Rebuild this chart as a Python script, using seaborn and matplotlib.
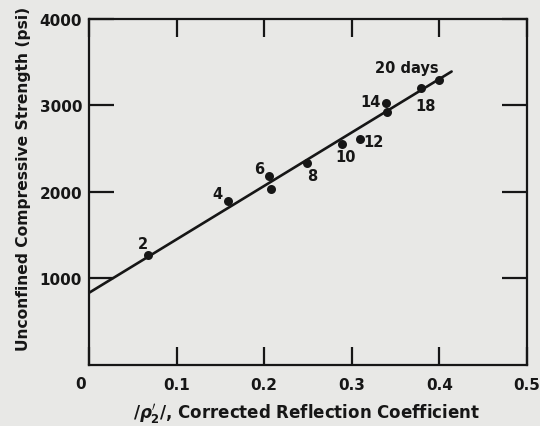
import numpy as np
import pandas as pd
import seaborn as sns
import matplotlib
matplotlib.use("Agg")
import matplotlib.pyplot as plt

# values
reflection = [0.067, 0.159, 0.206, 0.208, 0.249, 0.289, 0.309, 0.339, 0.340, 0.379, 0.400]
strength = [1272, 1888, 2185, 2035, 2339, 2551, 2609, 3025, 2929, 3199, 3295]
day_labels = ["2", "4", "6", "", "8", "10", "12", "14", "", "18", "20 days"]

# fitted line as drawn
fit_intercept = 830
fit_slope = 6190
fit_x = [0.0, 0.414]

x_ticks = [0, 0.1, 0.2, 0.3, 0.4, 0.5]
x_tick_labels = ["", "0.1", "0.2", "0.3", "0.4", "0.5"]
y_ticks = [1000, 2000, 3000, 4000]
y_tick_labels = ["1000", "2000", "3000", "4000"]

df = pd.DataFrame({"x": reflection, "y": strength, "day": day_labels})
fit = pd.DataFrame({"x": fit_x})
fit["y"] = fit_intercept + fit_slope * fit["x"]

# label offsets in pixels (text centre relative to point)
offsets = {
    "2": (-5, 11), "4": (-11, 8), "6": (-10, 7), "8": (5, -13),
    "10": (3, -12), "12": (14, -2), "14": (-15, 2), "18": (5, -17),
    "20 days": (-33, 12),
}

ink = "#161616"
paper = "#e8e8e6"
sns.set_style("ticks")
plt.rcParams["font.family"] = ["DejaVu Sans"]
plt.rcParams["font.weight"] = "bold"
plt.rcParams["axes.labelweight"] = "bold"
plt.rcParams["mathtext.default"] = "it"

fig = plt.figure(figsize=(5.4, 4.27), dpi=100, facecolor=paper)
ax = fig.add_axes([0.1648, 0.144, 0.811, 0.809])
ax.set_facecolor(paper)

sns.lineplot(data=fit, x="x", y="y", ax=ax, color=ink, linewidth=1.9)
sns.scatterplot(data=df, x="x", y="y", ax=ax, color=ink, s=42, edgecolor=ink, linewidth=0, zorder=3)

for _, r in df.iterrows():
    if r["day"]:
        dx, dy = offsets[r["day"]]
        ax.annotate(r["day"], xy=(r["x"], r["y"]), xytext=(dx, dy),
                    textcoords="offset pixels", ha="center", va="center",
                    fontsize=10.5, color=ink)

ax.annotate("0", xy=(0, 0), xytext=(-8, -19), textcoords="offset pixels",
            ha="center", va="center", fontsize=11, color=ink)

ax.set_xlim(0, 0.5)
ax.set_ylim(0, 4000)
ax.set_xticks(x_ticks)
ax.set_xticklabels(x_tick_labels)
ax.set_yticks(y_ticks)
ax.set_yticklabels(y_tick_labels)
ax.tick_params(axis="x", direction="in", length=13, width=1.6, pad=9,
               top=True, bottom=True, labelsize=11, colors=ink)
ax.tick_params(axis="y", direction="in", length=18, width=1.6, pad=5,
               left=True, right=True, labelsize=11, colors=ink)
for sp in ax.spines.values():
    sp.set_visible(True)
    sp.set_linewidth(1.6)
    sp.set_color(ink)

ax.set_xlabel(r"$/\rho_2^{\prime}/$, Corrected Reflection Coefficient", fontsize=12,
              color=ink)
ax.set_ylabel("Unconfined Compressive Strength (psi)", fontsize=11.2, color=ink)
ax.xaxis.set_label_coords(0.497, -0.105)
ax.yaxis.set_label_coords(-0.133, 0.54)

fig.savefig("out.png", dpi=100, facecolor=paper)
